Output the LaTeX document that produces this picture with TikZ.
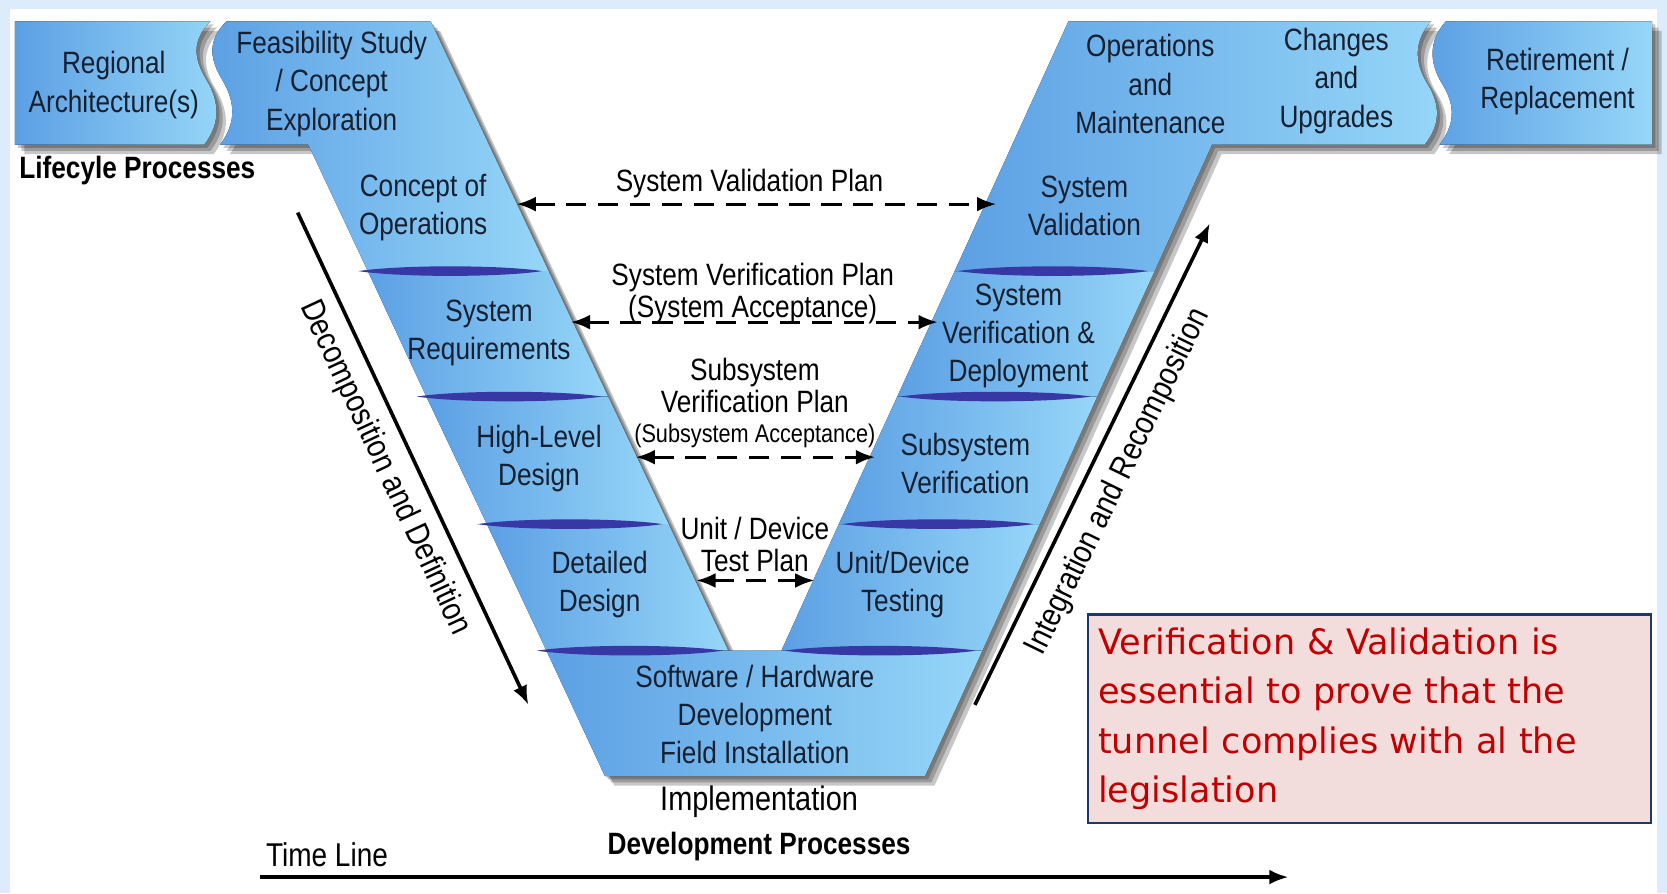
\documentclass[tikz,border=0pt]{standalone}
\usepackage{fontspec}
\newfontfamily\vfont[FakeStretch=0.85]{Liberation Sans}
\newfontfamily\notefont{DejaVu Sans}
\usepackage{xcolor}
\usetikzlibrary{arrows.meta}
\tikzset{>={Latex[length=18pt,width=14pt]}}

\definecolor{framebg}{RGB}{221,236,252}
\definecolor{vdark}{RGB}{92,160,228}
\definecolor{vlight}{RGB}{150,214,248}
\definecolor{divblue}{RGB}{55,55,165}
\definecolor{vtextcol}{RGB}{22,32,48}
\definecolor{notefill}{RGB}{242,221,220}
\definecolor{noteline}{RGB}{31,56,100}
\definecolor{notered}{RGB}{192,0,0}

\tikzset{
  seg/.style={left color=vdark, right color=vlight},
  vshadow/.style={fill=black, opacity=0.22},
  divider/.style={fill=divblue},
  vlabel/.style={font={\vfont\fontsize{29}{36}\selectfont}, text=vtextcol, align=center, inner sep=0pt},
  planlabel/.style={font={\vfont\fontsize{29}{30}\selectfont}, align=center, inner sep=0pt},
  planarrow/.style={<->, line width=2.8pt, dash pattern=on 19pt off 11pt},
  bigarrow/.style={->, line width=3.4pt},
}

\begin{document}
\begin{tikzpicture}[x=1pt, y=-1pt]

% Frame
\fill[framebg] (0,0) rectangle (1568,840);
\fill[white] (9,8) rectangle (1559,840);
\useasboundingbox (0,0) rectangle (1568,840);

% Shadows
\foreach \s in {3,6,9}
  \fill[vshadow, shift={(\s,\s)}]
    (14,20) -- (198,20) .. controls (180,38) and (182,55) .. (194,75) .. controls (206,95) and (208,115) .. (192,136) -- (14,136) -- cycle
    (213,20) -- (405,20) -- (685,612) -- (735,612) -- (1005,20) -- (1346,20) .. controls (1330,38) and (1330,58) .. (1342,78) .. controls (1356,100) and (1354,118) .. (1340,136) -- (1140,136) -- (870,730) -- (569,730) -- (290,136) -- (207,136) .. controls (223,115) and (221,95) .. (209,75) .. controls (197,55) and (195,38) .. (213,20) -- cycle
    (1360,20) -- (1554,20) -- (1554,136) -- (1354,136) .. controls (1368,118) and (1370,100) .. (1356,78) .. controls (1344,58) and (1344,38) .. (1360,20) -- cycle;

% Top bands
\fill[seg] (14,20) -- (198,20) .. controls (180,38) and (182,55) .. (194,75) .. controls (206,95) and (208,115) .. (192,136) -- (14,136) -- cycle;
\fill[seg] (1360,20) -- (1554,20) -- (1554,136) -- (1354,136) .. controls (1368,118) and (1370,100) .. (1356,78) .. controls (1344,58) and (1344,38) .. (1360,20) -- cycle;

% Left arm
\fill[seg] (213,20) -- (405,20) -- (516,255) -- (346,255) -- (290,136) -- (207,136) .. controls (223,115) and (221,95) .. (209,75) .. controls (197,55) and (195,38) .. (213,20) -- cycle;
\fill[seg] (346,255) -- (516,255) -- (572,373) -- (401,373) -- cycle;
\fill[seg] (401,373) -- (572,373) -- (629,493) -- (458,493) -- cycle;
\fill[seg] (458,493) -- (629,493) -- (685,612) -- (514,612) -- cycle;

% Bottom
\fill[seg] (514,612) -- (924,612) -- (870,730) -- (569,730) -- cycle;

% Right arm
\fill[seg] (735,612) -- (789,493) -- (978,493) -- (924,612) -- cycle;
\fill[seg] (789,493) -- (844,373) -- (1032,373) -- (978,493) -- cycle;
\fill[seg] (844,373) -- (898,255) -- (1086,255) -- (1032,373) -- cycle;
\fill[seg] (898,255) -- (1005,20) -- (1346,20) .. controls (1330,38) and (1330,58) .. (1342,78) .. controls (1356,100) and (1354,118) .. (1340,136) -- (1140,136) -- (1086,255) -- cycle;

% Dividers
\foreach \a/\b/\y in {337/510/255, 392/566/373, 449/623/493, 505/680/612,
                      901/1080/255, 847/1026/373, 792/972/493, 738/918/612}
  \fill[divider] (\a,\y) .. controls (\a+40,\y-6) and (\b-40,\y-6) .. (\b,\y)
                         .. controls (\b-40,\y+6) and (\a+40,\y+6) .. (\a,\y) -- cycle;

% Stage labels
\node[vlabel] (regional) at (107,80) {Regional\\Architecture(s)};
\node[vlabel] (feasib) at (312,79) {Feasibility Study\\/ Concept\\Exploration};
\node[vlabel] (conops) at (398,195) {Concept of\\Operations};
\node[vlabel] (sysreq) at (460,313) {System\\Requirements};
\node[vlabel] (hld) at (507,431) {High-Level\\Design};
\node[vlabel] (detdes) at (564,550) {Detailed\\Design};
\node[vlabel] (swhw) at (710,672) {Software / Hardware\\Development\\Field Installation};
\node[vlabel] (unittest) at (849,550) {Unit/Device\\Testing};
\node[vlabel] (subver) at (908,436) {Subsystem\\Verification};
\node[vlabel] (sysverdep) at (958,316) {System\\Verification \&\\Deployment};
\node[vlabel] (sysval) at (1020,194) {System\\Validation};
\node[vlabel] (opsmaint) at (1082,79) {Operations\\and\\Maintenance};
\node[vlabel] (changes) at (1257,76) {Changes\\and\\Upgrades};
\node[vlabel] (retire) at (1465,77) {Retirement /\\Replacement};

% Plan labels
\node[planlabel] (svplan) at (705,173) {System Validation Plan};
\node[planlabel] (sverplan) at (708,276) {System Verification Plan\\(System Acceptance)};
\node[planlabel] (subplan) at (710,363) {Subsystem\\Verification Plan};
\node[planlabel, font={\vfont\fontsize{24}{26}\selectfont}] (subacc) at (710,410) {(Subsystem Acceptance)};
\node[planlabel] (unitplan) at (710,512) {Unit / Device\\Test Plan};

% Plan arrows
\coordinate (svpL) at (486,192);  \coordinate (svpR) at (937,192);
\coordinate (sverL) at (537,303); \coordinate (sverR) at (882,303);
\coordinate (subL) at (598,430);  \coordinate (subR) at (823,430);
\coordinate (unitL) at (655,546); \coordinate (unitR) at (766,546);
\draw[planarrow] (svpL) -- (svpR);
\draw[planarrow] (sverL) -- (sverR);
\draw[planarrow] (subL) -- (subR);
\draw[planarrow] (unitL) -- (unitR);

% Diagonal arrows
\coordinate (decA) at (280,200);  \coordinate (decB) at (497,663);
\coordinate (intA) at (917,663);  \coordinate (intB) at (1138,210);
\draw[bigarrow] (decA) -- (decB);
\draw[bigarrow] (intA) -- (intB);
\node[vlabel, text=black, font={\vfont\fontsize{31}{36}\selectfont}, rotate=-65] (decomp) at (362,440) {Decomposition and Definition};
\node[vlabel, text=black, font={\vfont\fontsize{31}{36}\selectfont}, rotate=64] (integ) at (1052,453) {Integration and Recomposition};

% Process labels
\node[vlabel, text=black, font={\vfont\bfseries\fontsize{29}{36}\selectfont}, anchor=west] (lifecyle) at (18,160) {Lifecyle Processes};
\node[vlabel, text=black, font={\vfont\fontsize{32}{36}\selectfont}] (implement) at (714,754) {Implementation};
\node[vlabel, text=black, font={\vfont\bfseries\fontsize{29}{36}\selectfont}] (devproc) at (714,796) {Development Processes};

% Time line
\node[vlabel, text=black, font={\vfont\fontsize{31}{36}\selectfont}, anchor=west] (timeline) at (250,804) {Time Line};
\coordinate (tlA) at (245,825); \coordinate (tlB) at (1212,825);
\draw[bigarrow] (tlA) -- (tlB);

% Note
\node[draw=noteline, line width=2pt, fill=notefill, anchor=north west,
      minimum width=530pt, minimum height=196pt, inner xsep=9pt, text width=510pt,
      align=left, text=notered, font={\notefont\fontsize{33}{46.5}\selectfont}] (note) at (1022,577)
  {Verification \& Validation is\\essential to prove that the\\tunnel complies with al the\\legislation};

\end{tikzpicture}
\end{document}
